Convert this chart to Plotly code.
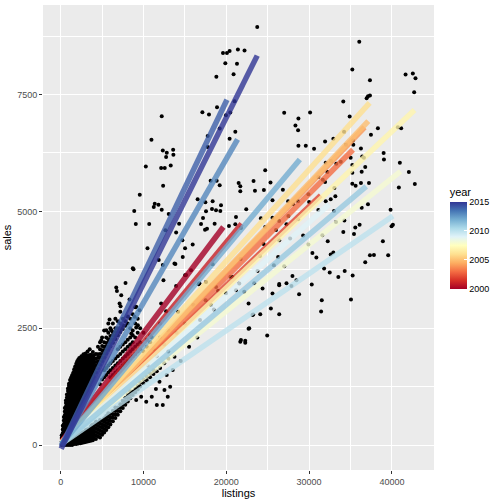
import plotly.graph_objects as go
from plotly.colors import sample_colorscale

# ---- scattered points (listings, sales) ----
upper_left = [
    (23735, 8947), (19600, 8391), (20080, 8391), (20400, 8434), (21400, 8462), (22200, 8441),
    (19880, 8170), (21290, 8157), (20880, 7935), (18800, 7879), (18880, 7230), (17110, 7123),
    (17910, 7073), (19960, 7059), (20480, 7116), (21000, 7358), (19200, 6774), (17750, 6610),
    (20400, 6554), (21090, 6704), (17750, 6375), (12200, 7037), (10960, 6531), (12330, 6304),
    (12810, 6255), (13580, 6319), (12730, 6161), (13610, 6212), (10280, 5962), (12130, 5926),
    (12570, 5926), (13290, 5983), (12370, 5549), (9550, 5357), (18110, 5657), (18840, 5657),
    (19200, 5556), (21490, 5605), (21690, 5535), (21690, 5428), (23290, 5648), (16540, 5257),
    (17470, 5193), (18350, 5214), (11360, 5165), (11810, 5144), (11240, 5093), (8880, 5007),
    (12200, 5036), (13050, 4943), (17550, 5000), (18270, 5050), (18760, 5022), (19360, 5129),
    (19280, 5007), (22410, 5043), (9070, 4729), (10690, 4729), (14300, 4737), (17190, 4857),
    (16950, 4729), (17430, 4608), (17670, 4630), (18590, 4737), (20320, 4687), (21090, 4723),
    (21170, 4879), (21770, 4644), (13940, 4545), (12650, 4595), (14700, 4381), (15020, 4210),
    (15940, 4289), (10480, 4210),
]

upper_right = [
    (36060, 8627), (35220, 8035), (37350, 7807), (36950, 7422), (37110, 7465), (37350, 7480),
    (41650, 7928), (42530, 7950), (42850, 7850), (42690, 7550), (34130, 7351), (34900, 7031),
    (38310, 6781), (40720, 6802), (41120, 6781), (37470, 6640), (39000, 6247), (39040, 6112),
    (40960, 6041), (42050, 5841), (42770, 5584), (40840, 5513), (39840, 5036), (40120, 4716),
    (39960, 4680), (38910, 4359), (26990, 7108), (28710, 6988), (28350, 6838), (28670, 6738),
    (30120, 7116), (28710, 6404), (29600, 6404), (30600, 6340), (31930, 6496), (32930, 6554),
    (34220, 6704), (34460, 6426), (35300, 6518), (35340, 6426), (35020, 6148), (36260, 6347),
    (36420, 6176), (36620, 6148), (36350, 5849), (36780, 5947), (32010, 6041), (32210, 5841),
    (32650, 6076), (33290, 6020), (33820, 6062), (31120, 5734), (31650, 5678), (31930, 5627),
    (33050, 5499), (32610, 5257), (35220, 5990), (35220, 5827), (35220, 5591), (35620, 5548),
    (36260, 5605), (37230, 5605), (36350, 5079), (37110, 5150), (34260, 4802), (35580, 4652),
    (36100, 4716), (26830, 5462), (25340, 5620), (24540, 5456), (23460, 5442), (24700, 5877),
    (25580, 5236), (27470, 5214), (28670, 5214), (28070, 5150), (29920, 5364), (32010, 5214),
    (33170, 5321), (24180, 4851), (25580, 4865), (26390, 4794), (27270, 4723), (28670, 4830),
    (31120, 5029), (33010, 5007), (33250, 4772), (24700, 4665), (31600, 4488), (32250, 4359),
    (34130, 4558), (35420, 4516), (26390, 4381), (27710, 4417), (29280, 4481), (29920, 4289),
]

lower = [
    (37350, 4060), (37830, 4067), (39550, 4060), (36780, 3911), (32610, 4075), (32930, 4118),
    (30400, 4110), (30880, 4011), (31810, 3776), (32490, 3690), (33530, 3597), (34300, 3725),
    (35260, 3626), (30320, 3434), (31530, 3099), (31450, 2857), (35060, 3114), (27990, 3618),
    (28470, 3526), (26390, 3447), (27270, 3462), (24380, 3349), (25580, 3242), (26390, 3419),
    (25380, 2921), (26390, 2800), (24100, 2800), (23250, 2793), (22690, 3028), (27870, 3404),
    (28790, 3227), (21690, 2208), (22290, 2187), (24940, 2344), (22690, 2486), (26260, 4024),
    (26990, 3825), (25740, 3847), (24060, 4045), (23770, 3725), (21720, 3981), (20760, 3597),
    (21570, 3454), (21170, 3312), (18350, 3868), (17550, 3490), (18760, 3383), (15740, 3740),
    (16660, 3440), (15020, 3633), (14740, 4024), (13740, 3883), (12410, 3526), (13940, 3404),
    (12130, 3028), (12730, 2864), (14180, 2849), (12930, 1032), (12330, 855), (11610, 855),
    (11000, 1032), (13220, 1246), (12530, 1175), (13530, 1603), (13740, 1887), (11930, 1353),
    (9720, 1032), (10330, 925), (9120, 962), (8795, 3761), (7830, 3468), (6710, 3370),
    (6790, 3298), (7310, 3206), (7110, 3028), (7230, 2970), (8310, 3114), (9120, 2956),
    (9520, 2885), (8920, 2742), (9320, 2564), (9120, 2515), (8520, 2387), (5900, 2686),
    (6110, 2458), (5510, 2458), (4900, 2244), (8710, 3781), (13850, 3873), (11840, 3959),
    (12330, 3852), (15140, 3638), (16750, 3460), (18150, 2996), (16830, 2675), (19960, 3246),
    (22170, 3281), (23370, 3460), (23170, 2782), (21770, 2247), (22290, 2232), (22770, 2497),
    (15000, 2600), (16000, 3000), (17500, 3100), (19000, 3300), (14000, 2400), (18500, 2900),
    (20500, 3600), (24500, 4300), (26000, 4600), (27500, 4900), (30000, 5200), (11000, 2300),
    (12000, 2600), (13000, 2000), (14500, 1800), (15500, 2100), (16500, 2300), (10500, 1700),
    (11500, 1200), (12800, 1500),
]

# dense cloud near the origin: one listings value per column, with its sales values
cloud_listings = [
    120, 250, 380, 500, 630, 750, 880, 1000, 1130, 1250, 1380, 1500, 1630, 1750, 1880,
    2000, 2130, 2250, 2380, 2500, 2630, 2750, 2880, 3000, 3130, 3250, 3380, 3500, 3630,
    3750, 3880, 4000, 4250, 4500, 4750, 5000, 5250, 5500, 5750, 6000, 6300, 6600, 6900,
    7200, 7500, 7800, 8100, 8400, 8700, 9000, 9300, 9600, 10000, 10400, 10800, 11200,
    11600, 12000, 12500, 13000,
]
cloud_sales = [
    [0, 75, 150, 210],
    [30, 105, 180, 255, 330, 410],
    [0, 75, 150, 225, 300, 375, 450, 525, 600],
    [40, 115, 190, 265, 340, 415, 490, 565, 640, 715, 790],
    [0, 75, 150, 225, 300, 375, 450, 525, 600, 675, 750, 825, 900, 950],
    [40, 115, 190, 265, 340, 415, 490, 565, 640, 715, 790, 865, 940, 1015, 1080],
    [0, 75, 150, 240, 330, 420, 510, 600, 690, 780, 855, 930, 1005, 1080, 1155, 1210],
    [40, 115, 190, 370, 445, 520, 595, 670, 745, 820, 895, 970, 1045, 1120, 1195, 1270, 1310],
    [0, 75, 150, 420, 495, 570, 645, 720, 795, 870, 945, 1020, 1095, 1170, 1245, 1320, 1390],
    [40, 115, 460, 535, 610, 685, 760, 835, 910, 985, 1060, 1135, 1210, 1285, 1360, 1440],
    [0, 75, 150, 510, 585, 660, 735, 810, 885, 960, 1035, 1110, 1185, 1260, 1335, 1410, 1490],
    [40, 115, 190, 560, 635, 710, 785, 860, 935, 1010, 1085, 1160, 1235, 1310, 1385, 1460, 1540],
    [20, 95, 170, 600, 675, 750, 825, 900, 975, 1050, 1125, 1200, 1275, 1350, 1425, 1500, 1575, 1620],
    [50, 125, 200, 650, 725, 800, 875, 950, 1025, 1100, 1175, 1250, 1325, 1400, 1475, 1550, 1625, 1680],
    [20, 95, 170, 240, 700, 775, 850, 925, 1000, 1075, 1150, 1225, 1300, 1375, 1450, 1525, 1600, 1675, 1740],
    [55, 130, 205, 740, 815, 890, 965, 1040, 1115, 1190, 1265, 1340, 1415, 1490, 1565, 1640, 1715, 1790],
    [30, 105, 180, 255, 790, 865, 940, 1015, 1090, 1165, 1240, 1315, 1390, 1465, 1540, 1615, 1690, 1765, 1830],
    [65, 140, 215, 830, 905, 980, 1055, 1130, 1205, 1280, 1355, 1430, 1505, 1580, 1655, 1730, 1805, 1860],
    [40, 115, 190, 265, 880, 955, 1030, 1105, 1180, 1255, 1330, 1405, 1480, 1555, 1630, 1705, 1780, 1860],
    [75, 150, 225, 920, 995, 1070, 1145, 1220, 1295, 1370, 1445, 1520, 1595, 1670, 1745, 1820, 1900],
    [50, 125, 200, 275, 970, 1045, 1120, 1195, 1270, 1345, 1420, 1495, 1570, 1645, 1720, 1795, 1880],
    [85, 160, 235, 1010, 1085, 1160, 1235, 1310, 1385, 1460, 1535, 1610, 1685, 1760, 1835, 1940],
    [60, 135, 210, 285, 1060, 1135, 1210, 1285, 1360, 1435, 1510, 1585, 1660, 1735, 1810, 1900],
    [95, 170, 245, 320, 1100, 1175, 1250, 1325, 1400, 1475, 1550, 1625, 1700, 1775, 1850, 1960],
    [70, 145, 220, 295, 1150, 1225, 1300, 1375, 1450, 1525, 1600, 1675, 1750, 1825, 1900],
    [110, 185, 260, 335, 1190, 1265, 1340, 1415, 1490, 1565, 1640, 1715, 1790, 1865, 2000],
    [80, 155, 230, 305, 1240, 1315, 1390, 1465, 1540, 1615, 1690, 1765, 1840, 1920],
    [120, 195, 270, 345, 1280, 1355, 1430, 1505, 1580, 1655, 1730, 1805, 1880, 2050],
    [90, 165, 240, 315, 390, 1330, 1405, 1480, 1555, 1630, 1705, 1780, 1855, 1930],
    [130, 205, 280, 355, 430, 1370, 1445, 1520, 1595, 1670, 1745, 1820, 1900],
    [100, 175, 250, 325, 400, 1420, 1495, 1570, 1645, 1720, 1795, 1870, 1990],
    [145, 220, 295, 370, 445, 1460, 1535, 1610, 1685, 1760, 1835, 1920],
    [130, 205, 280, 355, 430, 505, 1550, 1625, 1700, 1775, 1850, 1950],
    [180, 255, 330, 405, 480, 1640, 1715, 1790, 1865, 1940, 2100],
    [160, 235, 310, 385, 460, 535, 1300, 1720, 1795, 1870, 1950, 2050, 2200],
    [220, 295, 370, 445, 520, 1400, 1800, 1875, 1950, 2025, 2120, 2300],
    [270, 345, 420, 495, 570, 1450, 1600, 1880, 1955, 2030, 2105, 2200, 2450],
    [320, 395, 470, 545, 620, 1500, 1650, 1960, 2035, 2110, 2185, 2300],
    [380, 455, 530, 605, 680, 1550, 1700, 2040, 2115, 2190, 2265, 2400, 2600],
    [440, 515, 590, 665, 1450, 1600, 1750, 2110, 2185, 2260, 2335, 2500],
    [510, 585, 660, 735, 1500, 1650, 1800, 2190, 2265, 2340, 2415, 2600],
    [580, 655, 730, 805, 1550, 1700, 1850, 2270, 2345, 2420, 2500, 2700],
    [650, 725, 800, 1600, 1750, 1900, 2050, 2350, 2425, 2500, 2650],
    [720, 795, 870, 1650, 1800, 1950, 2100, 2420, 2500, 2600, 2850],
    [790, 865, 940, 1700, 1850, 2000, 2150, 2480, 2560, 2700],
    [860, 935, 1010, 1750, 1900, 2050, 2200, 2550, 2650],
    [930, 1005, 1080, 1800, 1950, 2100, 2250, 2600, 2750],
    [1000, 1075, 1150, 1850, 2000, 2150, 2300, 2500, 2700],
    [1070, 1145, 1900, 2050, 2200, 2350, 2450, 2800],
    [1130, 1205, 1950, 2100, 2300, 2600, 2950],
    [1190, 1265, 2000, 2150, 2400, 2700],
    [1250, 1330, 2050, 2200, 2500],
    [1320, 1400, 2000, 2400],
    [1380, 1460, 2100, 2250],
    [1450, 1530, 2200, 2350],
    [1520, 1600, 2050],
    [1580, 1900],
    [1650, 2300],
    [1750, 2150],
    [1850, 2450],
]

# ---- per-year linear fits: start and end of each line ----
years = list(range(2000, 2016))
fit_x0 = [150, 150, 150, 150, 150, 150, 150, 150, 150, 150, 150, 150, 100, 100, 80, 50]
fit_y0 = [80, 80, 70, 60, 60, 60, 50, 40, 40, 40, 30, 30, 20, 0, -30, -80]
fit_x1 = [19640, 21850, 31400, 35300, 36700, 37150, 37310, 42730, 41040, 32410,
          40120, 36900, 28880, 21360, 20080, 23735]
fit_y1 = [4665, 4735, 5342, 6318, 6800, 6930, 7322, 7170, 5855, 5150,
          4900, 5534, 6111, 6538, 7387, 8333]

rdylbu = ['rgb(165,0,38)', 'rgb(215,48,39)', 'rgb(244,109,67)', 'rgb(253,174,97)',
          'rgb(254,224,144)', 'rgb(255,255,191)', 'rgb(224,243,248)', 'rgb(171,217,233)',
          'rgb(116,173,209)', 'rgb(69,117,180)', 'rgb(49,54,149)']

xs, ys = [], []
for group in (upper_left, upper_right, lower):
    for lx, sy in group:
        xs.append(lx)
        ys.append(sy)
for lx, col in zip(cloud_listings, cloud_sales):
    for sy in col:
        xs.append(lx)
        ys.append(sy)

fig = go.Figure()
fig.add_trace(go.Scatter(x=xs, y=ys, mode="markers",
                         marker=dict(color="black", size=4), showlegend=False,
                         hoverinfo="skip"))

cols = sample_colorscale(rdylbu, [(y - 2000) / 15 for y in years])
for i, yr in enumerate(years):
    fig.add_trace(go.Scatter(x=[fit_x0[i], fit_x1[i]], y=[fit_y0[i], fit_y1[i]],
                             mode="lines", line=dict(color=cols[i], width=5.5),
                             opacity=0.8, showlegend=False, name=str(yr)))

# colour bar only
fig.add_trace(go.Scatter(
    x=[None, None], y=[None, None], mode="markers", showlegend=False,
    marker=dict(color=[2000, 2015], cmin=2000, cmax=2015, colorscale=rdylbu,
                showscale=True,
                colorbar=dict(title=dict(text="year", side="top",
                                         font=dict(size=11, color="black")),
                              thickness=17, len=104, lenmode="pixels",
                              x=1.04, xanchor="left", y=0.613, yanchor="top",
                              xpad=0, ypad=0, outlinewidth=0,
                              tickvals=[2000, 2005, 2010, 2015],
                              ticks="inside", ticklen=3, tickcolor="white",
                              tickfont=dict(size=9, color="black")))))

axis_style = dict(showgrid=True, gridcolor="white", gridwidth=1.2, zeroline=False,
                  ticks="outside", ticklen=3, tickcolor="#333333", tickwidth=1,
                  tickfont=dict(size=9, color="#4D4D4D"), showline=False,
                  automargin=False, title_font=dict(size=11, color="black"))

fig.update_xaxes(axis_style, range=[-2138, 45085], tickvals=[0, 10000, 20000, 30000, 40000],
                 ticktext=["0", "10000", "20000", "30000", "40000"],
                 minor=dict(tickvals=[5000, 15000, 25000, 35000, 45000], showgrid=True,
                            gridcolor="white", gridwidth=0.6, ticks=""),
                 title=dict(text="listings", standoff=2))
fig.update_yaxes(axis_style, range=[-535, 9416], tickvals=[0, 2500, 5000, 7500],
                 minor=dict(tickvals=[1250, 3750, 6250, 8750], showgrid=True,
                            gridcolor="white", gridwidth=0.6, ticks=""),
                 title=dict(text="sales", standoff=3))

fig.update_layout(width=504, height=504, paper_bgcolor="white", plot_bgcolor="#EBEBEB",
                  margin=dict(l=43, r=70, t=5, b=34, autoexpand=False),
                  font=dict(family="Liberation Sans, Arial, sans-serif"))

# the page's default body margin would shift the chart; remove it
fig.write_html("out.html", config={"displayModeBar": False},
               post_script="document.body.style.margin='0';")
